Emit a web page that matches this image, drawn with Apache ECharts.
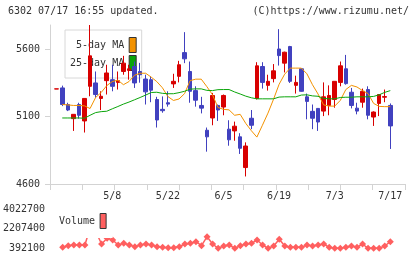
<!DOCTYPE html>
<html>
<head>
<meta charset="utf-8">
<script src="https://cdn.jsdelivr.net/npm/echarts@6/dist/echarts.min.js"></script>
<style>
  html, body { margin: 0; padding: 0; background: #fff; }
  #chart { width: 420px; height: 259px; }
</style>
</head>
<body>
<div id="chart"></div>
<script>
  // trading days (index 0 .. 60)
  const dates = ['4/21','4/22','4/23','4/24','4/25','4/28','4/30','5/1','5/2','5/7',
    '5/8','5/9','5/12','5/13','5/14','5/15','5/16','5/19','5/20','5/21',
    '5/22','5/23','5/26','5/27','5/28','5/29','5/30','6/2','6/3','6/4',
    '6/5','6/6','6/9','6/10','6/11','6/12','6/13','6/16','6/17','6/18',
    '6/19','6/20','6/23','6/24','6/25','6/26','6/27','6/30','7/1','7/2',
    '7/3','7/4','7/7','7/8','7/9','7/10','7/11','7/14','7/15','7/16','7/17']
  const opens = [5305,5313,5190,5085,5190,5068,5325,5350,5235,5367,
    5374,5354,5435,5443,5472,5435,5379,5374,5227,5154,
    5203,5343,5399,5575,5435,5293,5183,4999,5090,5183,
    5171,5007,4994,4950,4722,5088,5235,5472,5332,5382,
    5602,5497,5620,5332,5455,5247,5139,5161,5141,5183,
    5227,5354,5455,5281,5163,5207,5301,5097,5198,5244,5183]
  const closes = [5306,5190,5149,5117,5110,5235,5551,5264,5251,5424,
    5325,5367,5497,5455,5350,5411,5284,5296,5075,5144,
    5193,5362,5485,5529,5288,5222,5163,4950,5257,5149,
    5257,4928,5029,4865,4882,5036,5477,5354,5362,5440,
    5553,5578,5362,5354,5288,5213,5088,5060,5247,5257,
    5362,5477,5345,5183,5141,5288,5110,5134,5264,5249,5031]
  const lows = [5305,5178,5141,4994,5085,4982,5251,5240,5149,5264,
    5288,5301,5411,5374,5313,5352,5190,5207,5019,5129,
    5174,5313,5354,5497,5203,5174,5124,4840,5036,5068,
    5110,4884,4921,4823,4656,5007,5227,5308,5293,5354,
    5479,5428,5350,5271,5285,5080,5007,4994,5104,5110,
    5166,5325,5337,5161,5117,5166,5080,5031,5104,5207,4860]
  const highs = [5306,5330,5203,5117,5203,5235,5780,5435,5288,5485,
    5485,5435,5551,5485,5509,5499,5411,5399,5247,5250,
    5288,5418,5514,5727,5509,5325,5247,5019,5276,5190,
    5264,5073,5063,4977,4909,5149,5504,5504,5411,5490,
    5749,5582,5625,5404,5460,5271,5190,5161,5354,5332,
    5362,5509,5558,5313,5203,5308,5325,5139,5264,5301,5198]
  const ma5 = [null,5190,5187,5183,5183,5180,5160,5242,5279,5330,
    5360,5371,5337,5360,5407,5422,5422,5393,5360,5315,
    5249,5220,5231,5271,5367,5378,5378,5323,5264,5168,
    5154,5150,5110,5117,5050,4996,4948,5036,5126,5229,
    5340,5415,5460,5460,5460,5418,5337,5268,5187,5178,
    5178,5220,5301,5332,5320,5293,5271,5198,5176,5174,5174]
  const ma25 = [null,5090,5090,5090,5090,5088,5110,5130,5137,5140,
    5158,5175,5193,5208,5225,5242,5260,5279,5281,5273,
    5270,5270,5278,5288,5304,5306,5306,5295,5293,5300,
    5301,5301,5283,5268,5252,5240,5232,5232,5232,5232,
    5245,5247,5247,5247,5260,5262,5254,5251,5235,5232,
    5232,5242,5244,5244,5247,5247,5247,5250,5262,5280,5293]
  const volumes = [null,485000,630000,700000,700000,697000,2400000,1900000,789000,1316000,
    1160000,697000,854000,697000,540000,697000,789000,697000,540000,485000,
    447000,447000,540000,789000,854000,1002000,632000,1464000,789000,392100,
    605000,697000,392100,632000,789000,854000,1160000,697000,392100,605000,
    1223000,605000,485000,485000,485000,697000,605000,697000,789000,485000,
    392100,392100,485000,605000,485000,789000,392100,392100,392100,605000,1002000]
  const priceTicks = [4600, 5100, 5600]
  const volTicks = [392100, 2207400, 4022700]
  const dateTicks = [10, 20, 30, 40, 50, 60]

  const FONT = 'DejaVu Sans Mono'
  const txt = { fontFamily: FONT, fontSize: 10, color: '#333' }
  const axisGrey = '#d3d3d3'
  const upColor = '#d80000'
  const downColor = '#4141bf'

  const candleData = dates.map((d, i) => [i, opens[i], closes[i], lows[i], highs[i]])
  const ma5Data = ma5.map((v, i) => [i, v])
  const ma25Data = ma25.map((v, i) => [i, v])
  const volData = volumes.map((v, i) => [i, v])

  const chart = echarts.init(document.getElementById('chart'))
  chart.setOption({
    animation: false,
    backgroundColor: '#fff',
    title: [
      { text: '6302 07/17 16:55 updated.', left: 8, top: 6, padding: 0,
        textStyle: Object.assign({}, txt, { fontWeight: 'normal' }) },
      { text: '(C)https://www.rizumu.net/', right: 11, top: 6, padding: 0,
        textStyle: Object.assign({}, txt, { fontWeight: 'normal' }) }
    ],
    legend: [
      {
        data: ['5-day MA', '25-day MA'],
        orient: 'vertical', left: 65, top: 30, padding: [7, 5, 7, 5],
        itemGap: 2, itemWidth: 7, itemHeight: 15, align: 'right', icon: 'rect',
        borderColor: '#d8d8d8', borderWidth: 1, z: 1,
        itemStyle: { borderColor: '#333', borderWidth: 1 },
        formatter: name => name.length < 9 ? ' ' + name : name,
        textStyle: txt, selectedMode: false
      },
      {
        data: ['Volume'],
        left: 53, top: 207, padding: [6, 6, 9, 6],
        itemWidth: 6, itemHeight: 15, align: 'right', icon: 'rect',
        backgroundColor: '#fff', z: 5,
        itemStyle: { borderColor: '#333', borderWidth: 1 },
        textStyle: txt, selectedMode: false
      }
    ],
    grid: [
      { left: 50, right: 15, top: 25, height: 159 },
      { left: 56.7, width: 333.6, top: 25, height: 159 },
      { left: 56.7, width: 333.6, top: 209, height: 39.3 }
    ],
    xAxis: [
      { gridIndex: 0, type: 'value', min: 0, max: 11, interval: 1,
        axisLine: { lineStyle: { color: axisGrey } },
        axisTick: { length: 6, lineStyle: { color: axisGrey } },
        axisLabel: { show: false }, splitLine: { show: false } },
      { gridIndex: 1, type: 'value', min: 0, max: 60,
        axisLine: { show: false }, axisTick: { show: false }, splitLine: { show: false },
        axisLabel: Object.assign({ customValues: dateTicks, margin: 7,
          formatter: v => dates[v] }, txt) },
      { gridIndex: 2, type: 'value', min: 0, max: 60, show: false }
    ],
    yAxis: [
      { gridIndex: 0, type: 'value', min: 4600, max: 5780,
        axisLine: { show: true, lineStyle: { color: axisGrey } },
        axisTick: { show: true, length: 5, customValues: priceTicks, lineStyle: { color: axisGrey } },
        axisLabel: Object.assign({ customValues: priceTicks, margin: 10, formatter: v => String(v) }, txt),
        splitLine: { show: false } },
      { gridIndex: 1, type: 'value', min: 4600, max: 5780, show: false },
      { gridIndex: 2, type: 'value', min: 392100, max: 4022700,
        axisLine: { show: false }, axisTick: { show: false }, splitLine: { show: false },
        axisLabel: Object.assign({ customValues: volTicks, margin: 12, formatter: v => String(v) }, txt) }
    ],
    series: [
      {
        type: 'candlestick', xAxisIndex: 1, yAxisIndex: 1,
        barWidth: 4,
        itemStyle: { color: upColor, color0: downColor, borderColor: upColor, borderColor0: downColor, borderWidth: 1 },
        data: candleData
      },
      {
        name: '5-day MA', type: 'line', xAxisIndex: 1, yAxisIndex: 1,
        symbol: 'none', color: '#f39200',
        lineStyle: { color: '#f39200', width: 1 },
        data: ma5Data
      },
      {
        name: '25-day MA', type: 'line', xAxisIndex: 1, yAxisIndex: 1,
        symbol: 'none', color: '#0aa50a',
        lineStyle: { color: '#0aa50a', width: 1 },
        data: ma25Data
      },
      {
        name: 'Volume', type: 'line', xAxisIndex: 2, yAxisIndex: 2,
        symbol: 'diamond', symbolSize: 7, color: '#ff5f5f',
        itemStyle: { color: '#ff5f5f' },
        lineStyle: { color: '#ff5f5f', width: 1.5 },
        data: volData
      }
    ]
  })
</script>
</body>
</html>
